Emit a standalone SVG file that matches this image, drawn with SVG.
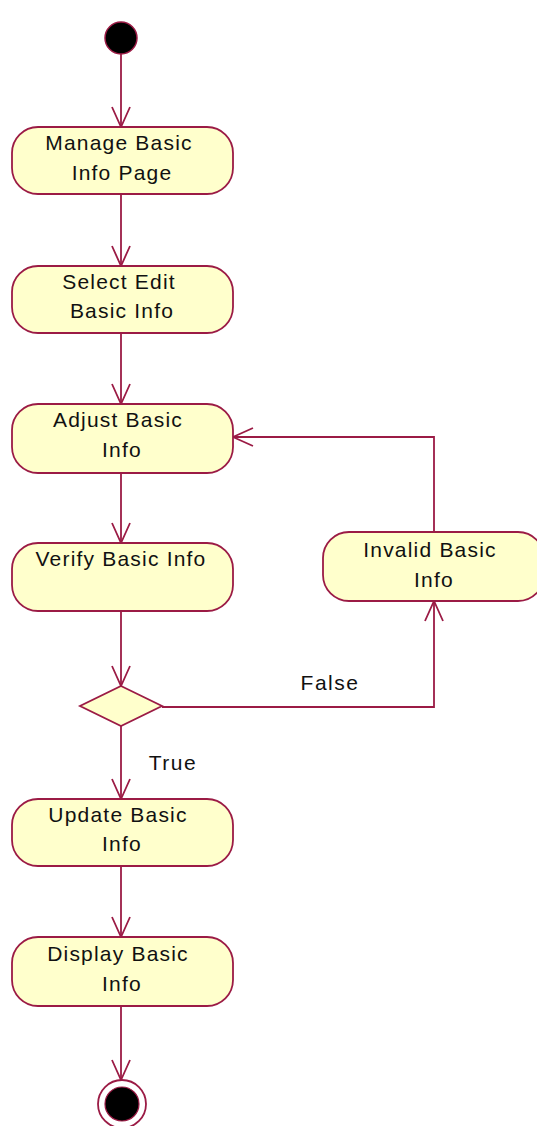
<svg xmlns="http://www.w3.org/2000/svg" width="537" height="1126" viewBox="0 0 537 1126">
<defs>
<marker id="arr" markerUnits="userSpaceOnUse" viewBox="0 0 22 20" refX="21" refY="10" markerWidth="22" markerHeight="20" orient="auto">
<path d="M1,1 L21,10 L1,19" fill="none" stroke="#9b1b45" stroke-width="1.8"/>
</marker>
</defs>
<style>
.node{fill:#ffffcc;stroke:#9b1b45;stroke-width:1.8}
.edge{fill:none;stroke:#9b1b45;stroke-width:1.8}
text{font-family:"Liberation Sans",Arial,sans-serif;font-size:21px;fill:#111;text-anchor:middle;letter-spacing:1.2px}
.lbl{letter-spacing:1.5px}
</style>
<rect x="0" y="0" width="537" height="1126" fill="#ffffff"/>
<g id="connectors">
<line class="edge" x1="121" y1="54" x2="121" y2="127" marker-end="url(#arr)"/>
<line class="edge" x1="121" y1="194" x2="121" y2="266" marker-end="url(#arr)"/>
<line class="edge" x1="121" y1="333" x2="121" y2="404" marker-end="url(#arr)"/>
<line class="edge" x1="121" y1="473" x2="121" y2="543" marker-end="url(#arr)"/>
<line class="edge" x1="121" y1="611" x2="121" y2="686" marker-end="url(#arr)"/>
<line class="edge" x1="121" y1="726" x2="121" y2="799" marker-end="url(#arr)"/>
<line class="edge" x1="121" y1="866" x2="121" y2="937" marker-end="url(#arr)"/>
<line class="edge" x1="121" y1="1006" x2="121" y2="1080" marker-end="url(#arr)"/>
<polyline class="edge" points="162,707 434,707 434,601" marker-end="url(#arr)"/>
<polyline class="edge" points="434,532 434,437 233,437" marker-end="url(#arr)"/>
<text class="lbl" x="330" y="690">False</text>
<text class="lbl" x="173" y="770">True</text>
</g>
<g id="start">
<circle cx="121" cy="38" r="16" fill="#000" stroke="#9b1b45" stroke-width="1.5"/>
</g>
<g id="manage">
<rect class="node" x="12" y="127" width="221" height="67" rx="26" ry="26"/>
<text x="119" y="150">Manage Basic</text>
<text x="122" y="180">Info Page</text>
</g>
<g id="select">
<rect class="node" x="12" y="266" width="221" height="67" rx="26" ry="26"/>
<text x="119" y="289">Select Edit</text>
<text x="122" y="318">Basic Info</text>
</g>
<g id="adjust">
<rect class="node" x="12" y="404" width="221" height="69" rx="26" ry="26"/>
<text x="118" y="427">Adjust Basic</text>
<text x="122" y="457">Info</text>
</g>
<g id="verify">
<rect class="node" x="12" y="543" width="221" height="68" rx="26" ry="26"/>
<text x="121" y="566">Verify Basic Info</text>
</g>
<g id="invalid">
<rect class="node" x="323" y="532" width="221" height="69" rx="26" ry="26"/>
<text x="430" y="557">Invalid Basic</text>
<text x="434" y="587">Info</text>
</g>
<g id="decision">
<polygon class="node" points="121,686 162,706 121,726 80,706"/>
</g>
<g id="update">
<rect class="node" x="12" y="799" width="221" height="67" rx="26" ry="26"/>
<text x="118" y="822">Update Basic</text>
<text x="122" y="851">Info</text>
</g>
<g id="display">
<rect class="node" x="12" y="937" width="221" height="69" rx="26" ry="26"/>
<text x="118" y="961">Display Basic</text>
<text x="122" y="991">Info</text>
</g>
<g id="end">
<circle cx="122" cy="1104" r="24" fill="#fff" stroke="#9b1b45" stroke-width="1.8"/>
<circle cx="122" cy="1104" r="17" fill="#000" stroke="#9b1b45" stroke-width="1.2"/>
</g>
</svg>
